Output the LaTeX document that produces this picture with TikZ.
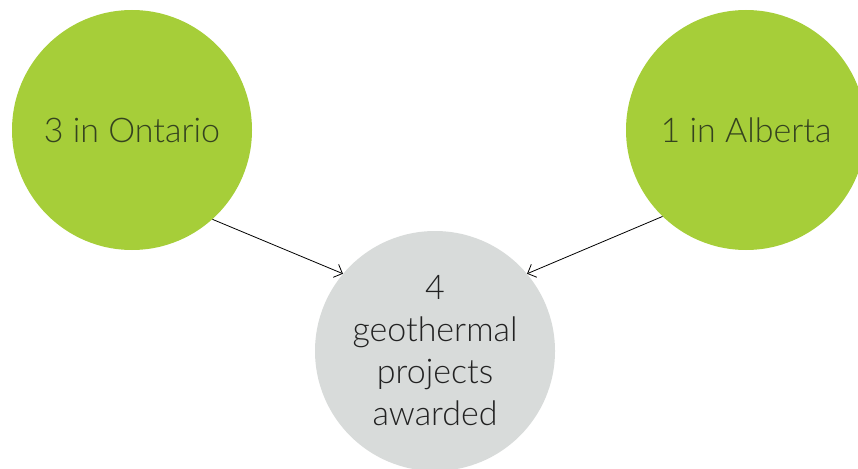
\documentclass[tikz,border=0pt]{standalone}
\usepackage{fontspec}
\setmainfont{Lato Light}
\usetikzlibrary{arrows.meta}
\definecolor{leafgreen}{HTML}{A6CE39}
\definecolor{softgray}{HTML}{D8DBDA}
\definecolor{darktext}{HTML}{35431F}
\definecolor{graytext}{HTML}{222222}
\tikzset{
  bubble/.style={circle, minimum size=240pt, inner sep=0pt, font=\fontsize{34}{42}\selectfont, align=center},
  greenbubble/.style={bubble, fill=leafgreen, text=darktext},
  graybubble/.style={bubble, fill=softgray, text=graytext},
  link/.style={draw=black, line width=0.8pt, -{Straight Barb[length=7pt,width=14pt,line width=0.8pt]}}
}
\begin{document}
\begin{tikzpicture}[x=1pt,y=1pt]
\useasboundingbox (0,0) rectangle (858,-468);
\clip (0,0) rectangle (858,-468);
\node[greenbubble] (ont) at (132,-130) {3 in Ontario};
\node[greenbubble] (alb) at (746,-130) {1 in Alberta};
\node[graybubble] (tot) at (435,-351) {4\\geothermal\\projects\\awarded};
\draw[link] (ont.-48) -- (tot.140);
\draw[link] (alb.-134) -- (tot.40);
\end{tikzpicture}
\end{document}
